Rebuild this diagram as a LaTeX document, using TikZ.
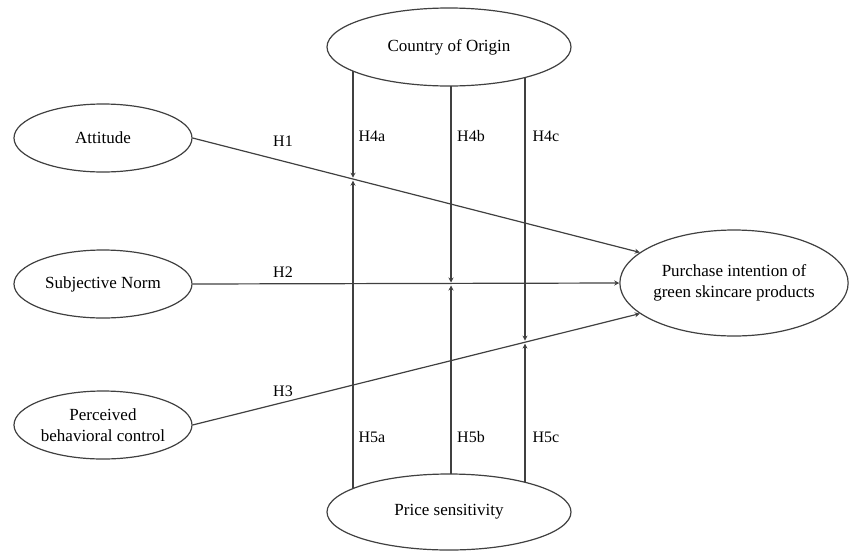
\documentclass[tikz,border=0pt]{standalone}
\usepackage{fontspec}
\setmainfont{Liberation Serif}
\usetikzlibrary{shapes.geometric,arrows.meta,backgrounds}
\begin{document}
\begin{tikzpicture}[x=1pt,y=-1pt,
  construct/.style={ellipse,draw=black!75,line width=1.2pt,fill=white,inner sep=0pt,align=center,
     font=\fontsize{17}{21}\selectfont},
  link/.style={draw=black!75,line width=1.2pt,-{Stealth[length=5pt,width=5pt]}},
  hlabel/.style={font=\fontsize{16}{18}\selectfont,inner sep=0pt}]
\useasboundingbox (0,0) rectangle (850,552);
\node[construct,minimum width=244pt,minimum height=78pt] (coo) at (449,47) {Country of Origin};
\node[construct,minimum width=244pt,minimum height=76pt] (ps) at (449,512) {Price sensitivity};
\node[construct,minimum width=178pt,minimum height=68pt] (att) at (103,138) {Attitude};
\node[construct,minimum width=178pt,minimum height=68pt] (sn) at (103,284) {Subjective Norm};
\node[construct,minimum width=178pt,minimum height=68pt] (pbc) at (103,425) {Perceived\\behavioral control};
\node[construct,minimum width=228pt,minimum height=106pt] (pi) at (734,283) {Purchase intention of\\green skincare products};
\draw[link] (att.east) -- (pi.162);
\draw[link] (sn.east) -- (pi.west);
\draw[link] (pbc.east) -- (pi.198);
\coordinate (m1) at (353,179.2);
\coordinate (m2) at (451,284);
\coordinate (m3) at (525,342.1);
\begin{scope}[on background layer]
\draw[link,shorten >=1.5pt] ([xshift=-96pt]coo.center) -- (m1);
\draw[link,shorten >=1.5pt] ([xshift=2pt]coo.center) -- (m2);
\draw[link,shorten >=1.5pt] ([xshift=76pt]coo.center) -- (m3);
\draw[link,shorten >=1.5pt] ([xshift=-96pt]ps.center) -- (m1);
\draw[link,shorten >=1.5pt] ([xshift=2pt]ps.center) -- (m2);
\draw[link,shorten >=1.5pt] ([xshift=76pt]ps.center) -- (m3);
\end{scope}
\node[hlabel] (h1) at (283,141) {H1};
\node[hlabel] (h2) at (283,272) {H2};
\node[hlabel] (h3) at (283,391) {H3};
\node[hlabel] (h4a) at (372,136) {H4a};
\node[hlabel] (h4b) at (471,136) {H4b};
\node[hlabel] (h4c) at (546,136) {H4c};
\node[hlabel] (h5a) at (372,437) {H5a};
\node[hlabel] (h5b) at (471,437) {H5b};
\node[hlabel] (h5c) at (546,437) {H5c};
\end{tikzpicture}
\end{document}
